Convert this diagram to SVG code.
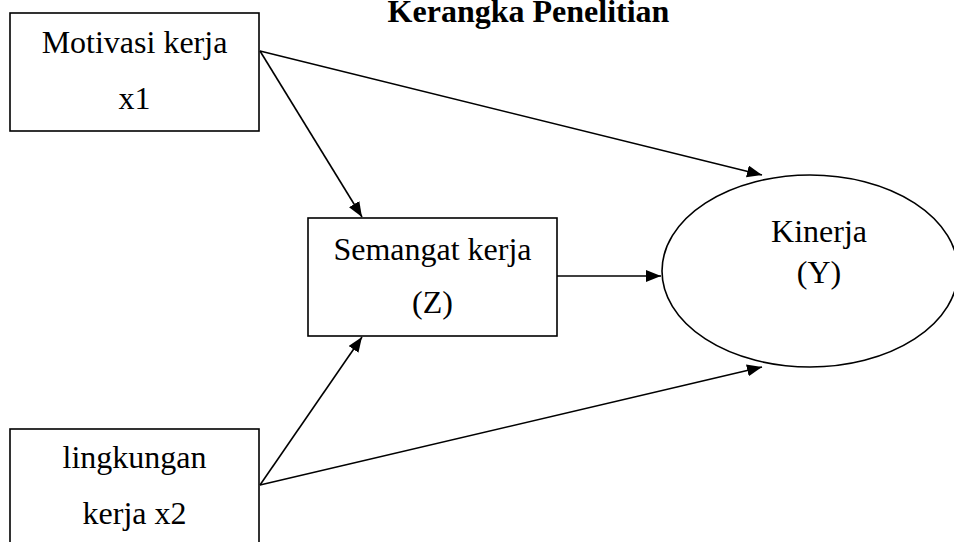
<svg xmlns="http://www.w3.org/2000/svg" width="954" height="542" viewBox="0 0 954 542">
  <style>
    .box { fill: #ffffff; stroke: #000000; stroke-width: 1.6; }
    .lbl { font-family: "Liberation Serif", "Times New Roman", serif; font-size: 32px; fill: #000000; text-anchor: middle; }
    .title { font-family: "Liberation Serif", "Times New Roman", serif; font-size: 32px; font-weight: bold; fill: #000000; text-anchor: middle; }
    .edge { fill: none; stroke: #000000; stroke-width: 1.6; marker-end: url(#arrow); }
  </style>
  <defs>
    <marker id="arrow" markerUnits="userSpaceOnUse" markerWidth="16" markerHeight="13" refX="15" refY="6" orient="auto">
      <path d="M0,0 L15,6 L0,12 z" fill="#000000"/>
    </marker>
  </defs>
  <rect width="954" height="542" fill="#ffffff"/>
  <text class="title" x="528.5" y="22">Kerangka Penelitian</text>

  <g id="connectors">
    <line class="edge" x1="260" y1="51" x2="762" y2="175"/>
    <line class="edge" x1="260" y1="51" x2="362" y2="217"/>
    <line class="edge" x1="557" y1="276" x2="661" y2="276"/>
    <line class="edge" x1="260" y1="485" x2="362" y2="337"/>
    <line class="edge" x1="260" y1="485" x2="762" y2="367"/>
  </g>

  <g id="node-motivasi">
    <rect class="box" x="10" y="13" width="249" height="118"/>
    <text class="lbl" x="134.5" y="53">Motivasi kerja</text>
    <text class="lbl" x="134.5" y="109">x1</text>
  </g>

  <g id="node-semangat">
    <rect class="box" x="308" y="218" width="249" height="118"/>
    <text class="lbl" x="432.5" y="260">Semangat kerja</text>
    <text class="lbl" x="432.5" y="313">(Z)</text>
  </g>

  <g id="node-lingkungan">
    <rect class="box" x="10" y="429" width="249" height="130"/>
    <text class="lbl" x="134.5" y="468">lingkungan</text>
    <text class="lbl" x="134.5" y="524">kerja x2</text>
  </g>

  <g id="node-kinerja">
    <ellipse class="box" cx="810" cy="271" rx="148" ry="96"/>
    <text class="lbl" x="819" y="242">Kinerja</text>
    <text class="lbl" x="819" y="283">(Y)</text>
  </g>
</svg>
